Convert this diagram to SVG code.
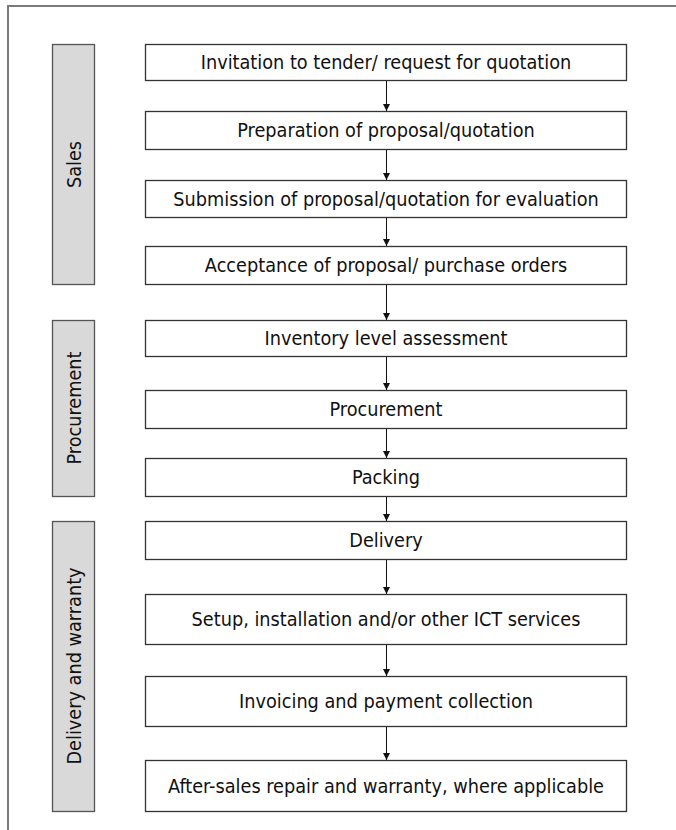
<svg xmlns="http://www.w3.org/2000/svg" width="676" height="830" viewBox="0 0 676 830">
  <defs>
    <marker id="arrow" viewBox="0 0 7 7" refX="7" refY="3.5" markerWidth="7" markerHeight="7" markerUnits="userSpaceOnUse" orient="auto">
      <path d="M0,0 L7,3.5 L0,7 Z" fill="#111"/>
    </marker>
    <style>
      .frame { fill: #fff; stroke: #7a7a7a; stroke-width: 2; }
      .step rect { fill: #fff; stroke: #333; stroke-width: 1.3; }
      .phase rect { fill: #d9d9d9; stroke: #555; stroke-width: 1.3; }
      text { font-family: "DejaVu Sans Condensed", "DejaVu Sans", Verdana, sans-serif; font-stretch: condensed; font-size: 19.7px; fill: #111; text-anchor: middle; dominant-baseline: central; }
      .links line { stroke: #111; stroke-width: 1; marker-end: url(#arrow); }
    </style>
  </defs>

  <rect width="676" height="830" fill="#fff"/>
  <!-- outer frame (runs off the right and bottom edges) -->
  <rect class="frame" x="8" y="6" width="680" height="840"/>

  <!-- phase bars -->
  <g id="phase-sales" class="phase">
    <rect x="52.5" y="44.5" width="42" height="240"/>
    <text transform="translate(74,164.5) rotate(-90)">Sales</text>
  </g>
  <g id="phase-procurement" class="phase">
    <rect x="52.5" y="320.5" width="42" height="176"/>
    <text transform="translate(74,408) rotate(-90)">Procurement</text>
  </g>
  <g id="phase-delivery" class="phase">
    <rect x="52.5" y="521.5" width="42" height="290"/>
    <text transform="translate(74,666) rotate(-90)">Delivery and warranty</text>
  </g>

  <!-- process steps -->
  <g id="step-invitation" class="step">
    <rect x="145.5" y="44.5" width="481" height="36"/>
    <text x="386" y="62.5">Invitation to tender/ request for quotation</text>
  </g>
  <g id="step-preparation" class="step">
    <rect x="145.5" y="111.5" width="481" height="38"/>
    <text x="386" y="130.5">Preparation of proposal/quotation</text>
  </g>
  <g id="step-submission" class="step">
    <rect x="145.5" y="180.5" width="481" height="37"/>
    <text x="386" y="199">Submission of proposal/quotation for evaluation</text>
  </g>
  <g id="step-acceptance" class="step">
    <rect x="145.5" y="246.5" width="481" height="38"/>
    <text x="386" y="265.5">Acceptance of proposal/ purchase orders</text>
  </g>
  <g id="step-inventory" class="step">
    <rect x="145.5" y="320.5" width="481" height="36"/>
    <text x="386" y="338.5">Inventory level assessment</text>
  </g>
  <g id="step-procurement" class="step">
    <rect x="145.5" y="390.5" width="481" height="38"/>
    <text x="386" y="409.5">Procurement</text>
  </g>
  <g id="step-packing" class="step">
    <rect x="145.5" y="458.5" width="481" height="38"/>
    <text x="386" y="477.5">Packing</text>
  </g>
  <g id="step-delivery" class="step">
    <rect x="145.5" y="521.5" width="481" height="38"/>
    <text x="386" y="540.5">Delivery</text>
  </g>
  <g id="step-setup" class="step">
    <rect x="145.5" y="594.5" width="481" height="50"/>
    <text x="386" y="619.5">Setup, installation and/or other ICT services</text>
  </g>
  <g id="step-invoicing" class="step">
    <rect x="145.5" y="676.5" width="481" height="50"/>
    <text x="386" y="701.5">Invoicing and payment collection</text>
  </g>
  <g id="step-aftersales" class="step">
    <rect x="145.5" y="760.5" width="481" height="51"/>
    <text x="386" y="786">After-sales repair and warranty, where applicable</text>
  </g>

  <!-- connectors -->
  <g id="connectors" class="links">
    <line x1="386.5" y1="81" x2="386.5" y2="111"/>
    <line x1="386.5" y1="150" x2="386.5" y2="180"/>
    <line x1="386.5" y1="218" x2="386.5" y2="246"/>
    <line x1="386.5" y1="285" x2="386.5" y2="320"/>
    <line x1="386.5" y1="357" x2="386.5" y2="390"/>
    <line x1="386.5" y1="429" x2="386.5" y2="458"/>
    <line x1="386.5" y1="497" x2="386.5" y2="521"/>
    <line x1="386.5" y1="560" x2="386.5" y2="594"/>
    <line x1="386.5" y1="645" x2="386.5" y2="676"/>
    <line x1="386.5" y1="727" x2="386.5" y2="760"/>
  </g>
</svg>
